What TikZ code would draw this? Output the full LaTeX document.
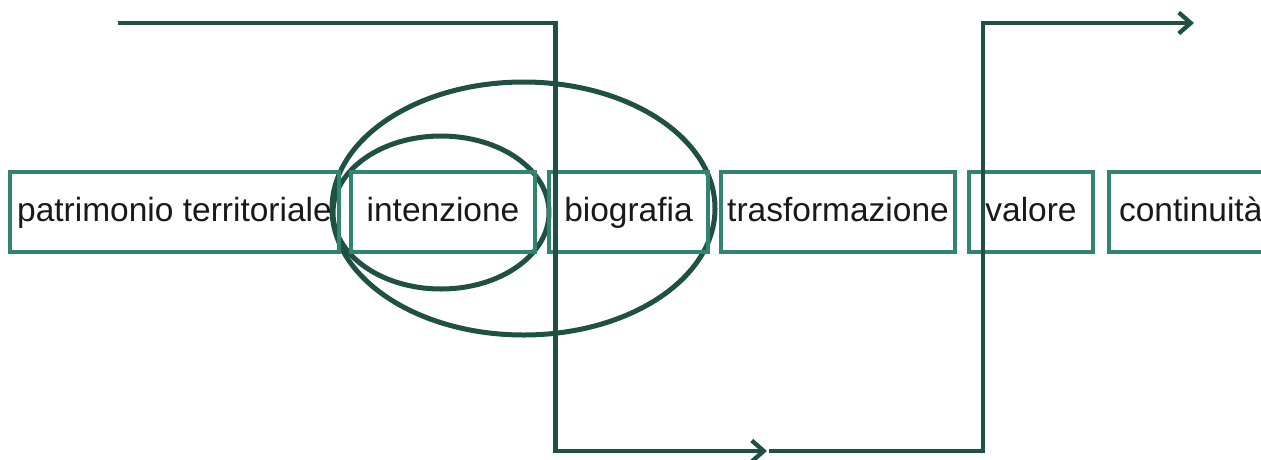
\documentclass[tikz,border=0pt]{standalone}
\usepackage{fontspec}
\setmainfont{Liberation Sans}
\usetikzlibrary{arrows,arrows.meta}
\usetikzlibrary{positioning}
\definecolor{boxgreen}{RGB}{48,132,112}
\definecolor{darkgreen}{RGB}{30,80,68}
\tikzset{
  wordbox/.style={draw=boxgreen, line width=3.6pt, inner sep=0pt, minimum height=80pt,
    text height=25pt, text depth=7pt,
    font=\fontsize{33.5}{38}\selectfont, text=black!90},
  flow/.style={draw=darkgreen, line width=4.3pt, >={Straight Barb[length=12pt,width=21pt]}},
}

\begin{document}
\begin{tikzpicture}[x=1pt,y=-1pt]
  \useasboundingbox (0,0) rectangle (1261,459);
  % ellipses
  \draw[flow, line width=5pt] (523.5,208.5) ellipse (191.5 and 126.5);
  \draw[flow, line width=5pt] (441,212.5) ellipse (108 and 76.5);
  % boxes
  \node[wordbox, minimum width=329pt] (patr) at (174.5,212) {patrimonio territoriale};
  \node[wordbox, minimum width=184pt] (inte) at (443,212) {intenzione};
  \node[wordbox, minimum width=159pt] (biog) at (628.5,212) {biografia};
  \node[wordbox, minimum width=234pt] (tras) at (838,212) {trasformazione};
  \node[wordbox, minimum width=124pt] (valo) at (1031,212) {valore};
  \node[wordbox, minimum width=170pt, text width=150pt, align=left] (cont) at (1194,212) {continuità};
  % flow line
  \coordinate (start) at (118,23);
  \coordinate (down) at (555.5,23);
  \coordinate (low) at (555.5,451);
  \coordinate (mid) at (767,451);
  \coordinate (midb) at (769,451);
  \coordinate (turn) at (983,451);
  \coordinate (up) at (983,23);
  \coordinate (stop) at (1194,23);
  \draw[flow, ->] (start) -- (down) -- (low) -- (mid);
  \draw[flow, ->] (midb) -- (turn) -- (up) -- (stop);
\end{tikzpicture}
\end{document}
